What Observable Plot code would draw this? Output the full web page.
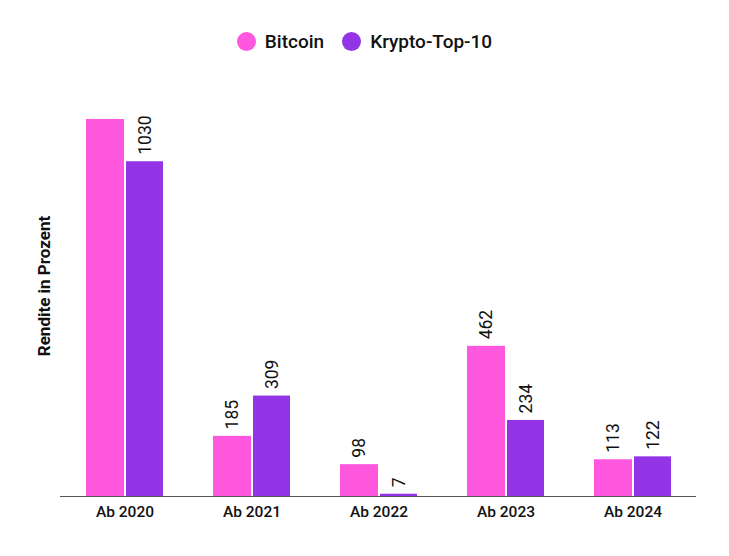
<!DOCTYPE html>
<html>
<head>
<meta charset="utf-8">
<script src="https://cdn.jsdelivr.net/npm/d3@7"></script>
<script src="https://cdn.jsdelivr.net/npm/@observablehq/plot@0.6"></script>
<style>
  body { margin: 0; background: #fff; font-family: Roboto, sans-serif; }
  #legend { height: 80px; display: flex; justify-content: center; align-items: center; gap: 18px; padding-top: 3px; box-sizing: border-box; }
  .item { display: flex; align-items: center; font-size: 19px; font-weight: 500; color: #111; }
  .sw { width: 19px; height: 19px; border-radius: 50%; margin-right: 9px; }
</style>
</head>
<body>
<div id="legend"></div>
<div id="chart"></div>
<script>
const years = ["Ab 2020", "Ab 2021", "Ab 2022", "Ab 2023", "Ab 2024"];
const seriesNames = ["Bitcoin", "Krypto-Top-10"];
const bitcoin = [1160, 185, 98, 462, 113];
const kryptoTop10 = [1030, 309, 7, 234, 122];
const colors = ["#ff57de", "#9334e6"];
const yLabel = "Rendite in Prozent";
const yMax = 1160;

const btcData = years.map((yr, i) => ({year: yr, series: seriesNames[0], value: bitcoin[i]}));
const topData = years.map((yr, i) => ({year: yr, series: seriesNames[1], value: kryptoTop10[i]}));

const legend = document.getElementById("legend");
seriesNames.forEach((s, i) => {
  const it = document.createElement("div");
  it.className = "item";
  it.innerHTML = `<span class="sw" style="background:${colors[i]}"></span>${s}`;
  legend.appendChild(it);
});

const labelOpts = {x: "year", y: "value", text: d => String(d.value), rotate: -90, textAnchor: "start", dy: -7, fontSize: 17.5, fill: "#111"};

const chart = Plot.plot({
  width: 729,
  height: 476,
  marginLeft: 60,
  marginRight: 33,
  marginTop: 39,
  marginBottom: 60,
  style: {fontFamily: "Roboto, sans-serif", background: "#fff"},
  x: {domain: years, paddingInner: 0.394, paddingOuter: 0.197},
  y: {domain: [0, yMax], axis: null},
  color: {domain: seriesNames, range: colors},
  marks: [
    Plot.barY(btcData, {x: "year", y: "value", fill: "series", insetLeft: 0, insetRight: 39}),
    Plot.barY(topData, {x: "year", y: "value", fill: "series", insetLeft: 40, insetRight: 0}),
    Plot.text(btcData.filter(d => d.value < yMax), {...labelOpts, dx: -19.5}),
    Plot.text(topData.filter(d => d.value < yMax), {...labelOpts, dx: 20}),
    Plot.ruleY([0], {stroke: "#555", strokeWidth: 1.2}),
    Plot.axisX({tickSize: 0, tickPadding: 9, label: null, fontSize: 15.5, fontWeight: 500, fill: "#111"}),
    Plot.text([yLabel], {frameAnchor: "left", textAnchor: "middle", rotate: -90, dx: -16, dy: -22, fontSize: 17, fontWeight: "bold", fill: "#111"})
  ]
});
document.getElementById("chart").appendChild(chart);
</script>
</body>
</html>
